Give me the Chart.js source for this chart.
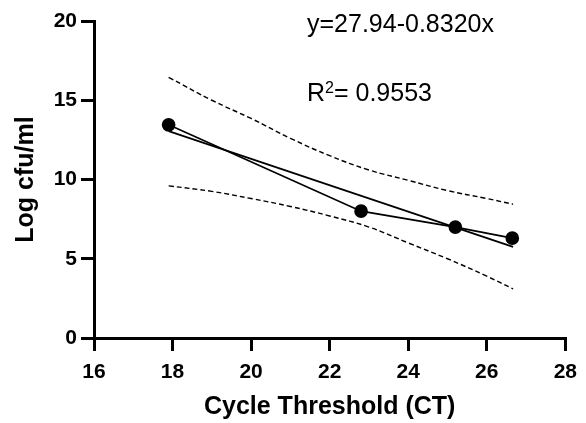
<!DOCTYPE html>
<html>
<head>
<meta charset="utf-8">
<script src="https://cdn.jsdelivr.net/npm/chart.js@4"></script>
<style>
  html, body { margin: 0; padding: 0; background: #fff; }
  #wrap { width: 586px; height: 423px; position: relative; }
</style>
</head>
<body>
<div id="wrap"><canvas id="chart"></canvas></div>
<script>
// measured points
const ctValues = [17.9, 22.8, 25.2, 26.65];
const logCfu = [13.45, 8.0, 7.0, 6.3];

// fitted line and 95% bands
const fitX = [17.9, 19, 20, 21, 22, 23, 24, 25, 26, 26.67];
const fitY = [13.05, 12.13, 11.30, 10.47, 9.64, 8.80, 7.97, 7.14, 6.31, 5.75];
const upperY = [16.45, 15.0, 13.85, 12.6, 11.5, 10.6, 9.95, 9.3, 8.8, 8.44];
const lowerY = [9.6, 9.25, 8.8, 8.3, 7.7, 7.0, 6.0, 5.0, 3.9, 3.1];

const xTicks = [16, 18, 20, 22, 24, 26, 28];
const yTicks = [0, 5, 10, 15, 20];

const equationText = 'y=27.94-0.8320x';
const r2Text = '= 0.9553';

function pts(xs, ys) {
  return xs.map((x, i) => ({ x: x, y: ys[i] }));
}

const textPlugin = {
  id: 'fitText',
  afterDraw(chart) {
    const c = chart.ctx;
    c.save();
    c.fillStyle = '#000';
    c.textBaseline = 'alphabetic';
    c.font = '25px "Liberation Sans", Arial, sans-serif';
    c.fillText(equationText, 307, 32);
    c.fillText('R', 307, 101);
    let w = c.measureText('R').width;
    c.font = '16px "Liberation Sans", Arial, sans-serif';
    c.fillText('2', 307 + w, 93);
    let w2 = c.measureText('2').width;
    c.font = '25px "Liberation Sans", Arial, sans-serif';
    c.fillText(r2Text, 307 + w + w2, 101);
    c.restore();
  }
};

const boldFont = { family: '"Liberation Sans", Arial, sans-serif', weight: 'bold' };

new Chart(document.getElementById('chart'), {
  type: 'scatter',
  data: {
    datasets: [
      {
        data: pts(fitX, upperY),
        showLine: true,
        borderColor: '#000',
        borderWidth: 1.4,
        borderDash: [5, 3],
        pointRadius: 0,
        tension: 0.4
      },
      {
        data: pts(fitX, lowerY),
        showLine: true,
        borderColor: '#000',
        borderWidth: 1.4,
        borderDash: [5, 3],
        pointRadius: 0,
        tension: 0.4
      },
      {
        data: pts([fitX[0], fitX[fitX.length - 1]], [fitY[0], fitY[fitY.length - 1]]),
        showLine: true,
        borderColor: '#000',
        borderWidth: 1.7,
        pointRadius: 0
      },
      {
        data: pts(ctValues, logCfu),
        showLine: true,
        borderColor: '#000',
        borderWidth: 1.7,
        backgroundColor: '#000',
        pointBackgroundColor: '#000',
        pointRadius: 6,
        pointHoverRadius: 6
      }
    ]
  },
  options: {
    responsive: true,
    maintainAspectRatio: false,
    animation: false,
    layout: { padding: { top: 21, right: 15, left: 0, bottom: 0 } },
    plugins: {
      legend: { display: false },
      tooltip: { enabled: false }
    },
    scales: {
      x: {
        type: 'linear',
        min: 16,
        max: 28,
        afterBuildTicks: (s) => { s.ticks = xTicks.map(v => ({ value: v })); },
        afterFit: (s) => { s.height = 85; },
        border: { color: '#000', width: 3 },
        grid: { drawOnChartArea: false, drawTicks: true, tickLength: 13, color: '#000', lineWidth: 3 },
        ticks: { color: '#000', padding: 9, font: Object.assign({ size: 21 }, boldFont) },
        title: { display: true, text: 'Cycle Threshold (CT)', color: '#000', padding: { top: 0, bottom: 1 }, font: Object.assign({ size: 25 }, boldFont) }
      },
      y: {
        type: 'linear',
        min: 0,
        max: 20,
        afterBuildTicks: (s) => { s.ticks = yTicks.map(v => ({ value: v })); },
        afterFit: (s) => { s.width = 94; },
        border: { color: '#000', width: 3 },
        grid: { drawOnChartArea: false, drawTicks: true, tickLength: 13, color: '#000', lineWidth: 3 },
        ticks: { color: '#000', padding: 4, font: Object.assign({ size: 21 }, boldFont) },
        title: { display: true, text: 'Log cfu/ml', color: '#000', padding: { top: 11, bottom: 0 }, font: Object.assign({ size: 25 }, boldFont) }
      }
    }
  },
  plugins: [textPlugin]
});
</script>
</body>
</html>
